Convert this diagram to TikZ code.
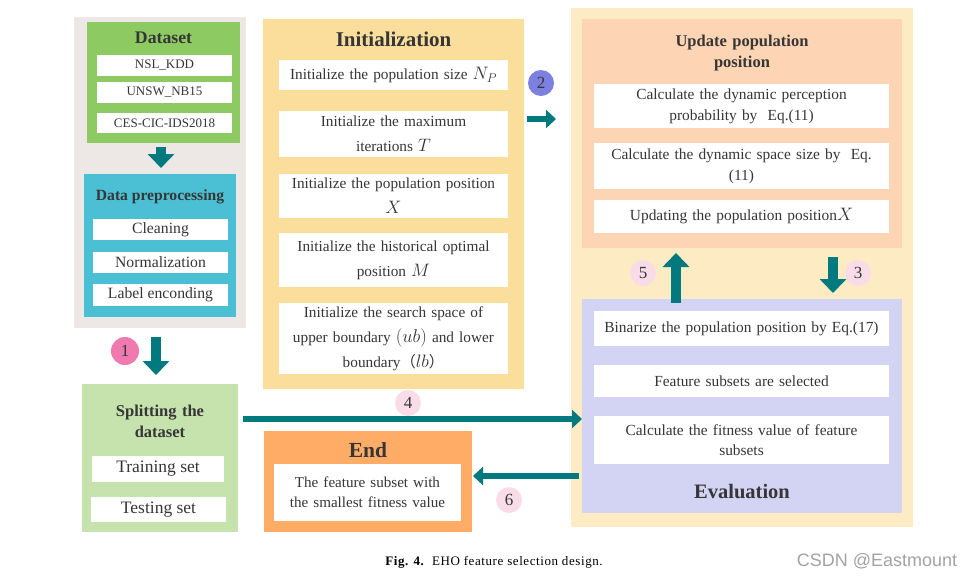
\RequirePackage{fix-cm}
\documentclass[tikz,border=0pt]{standalone}
\usepackage{fontspec}
\setmainfont{Liberation Serif}
\newfontfamily\wmfont{Liberation Sans}
\newfontfamily\capfont[LetterSpace=4.5]{Liberation Serif}
\newfontfamily\cjk{Noto Sans CJK SC}
\usetikzlibrary{arrows.meta}
\newcommand\mth[1]{{\fontsize{18}{25}\selectfont$#1$}}
\definecolor{txt}{HTML}{363636}
\definecolor{teal}{HTML}{007A7F}
\definecolor{graybg}{HTML}{EDE8E6}
\definecolor{dsgreen}{HTML}{8DCB62}
\definecolor{ppblue}{HTML}{4BC0D4}
\definecolor{inityel}{HTML}{FBDE9C}
\definecolor{rightbg}{HTML}{FDEBC3}
\definecolor{peach}{HTML}{FDD4B4}
\definecolor{lav}{HTML}{D3D3F3}
\definecolor{spgreen}{HTML}{C6E3AD}
\definecolor{endor}{HTML}{FFAD66}
\definecolor{cpink}{HTML}{F07AAF}
\definecolor{cblue}{HTML}{7C80E0}
\definecolor{clight}{HTML}{FADCE9}
\tikzset{
  panel/.style={rectangle, inner sep=0pt, outer sep=0pt},
  wbox/.style={panel, fill=white, text=txt, align=center},
  ttl/.style={text=txt, font=\bfseries\fontsize{16.5}{21}\selectfont, align=center, inner sep=0pt},
  bigttl/.style={text=txt, font=\bfseries\fontsize{21}{24}\selectfont, inner sep=0pt},
  body/.style={font=\fontsize{15.3}{25}\selectfont},
  rbody/.style={font=\fontsize{15.4}{21}\selectfont},
  small/.style={font=\fontsize{13}{15}\selectfont},
  mid/.style={font=\fontsize{15.7}{18}\selectfont},
  num/.style={circle, minimum size=26pt, inner sep=0pt, text=txt, font=\fontsize{17}{17}\selectfont},
  bigarr/.style={draw=teal, line width=10pt, -{Triangle[width=26pt,length=14pt]}},
  arr/.style={draw=teal, line width=6.5pt, -{Triangle[width=18pt,length=10pt]}},
}
\begin{document}
\begin{tikzpicture}[x=1pt,y=-1pt]
\fill[white] (0,0) rectangle (963,579);
\useasboundingbox (0,0) rectangle (963,579);
% left panel
\node[panel, fill=graybg, minimum width=172pt, minimum height=311pt] (gp) at (160,172.5) {};
\node[panel, fill=dsgreen, minimum width=153pt, minimum height=121pt] (ds) at (163.5,82.5) {};
\node[ttl, font=\bfseries\fontsize{17.7}{20}\selectfont] (dst) at (163.5,38) {Dataset};
\node[wbox, small, minimum width=135pt, minimum height=21pt] (w1) at (164.5,65.5) {NSL\_KDD};
\node[wbox, small, minimum width=135pt, minimum height=21pt] (w2) at (164.5,92.5) {UNSW\_NB15};
\node[wbox, small, minimum width=135pt, minimum height=20pt] (w3) at (164.5,123) {CES-CIC-IDS2018};
\node[panel, fill=ppblue, minimum width=152pt, minimum height=143pt] (pp) at (160,245.5) {};
\node[ttl, font=\bfseries\fontsize{15.6}{20}\selectfont] (ppt) at (160,197) {Data preprocessing};
\node[wbox, mid, minimum width=135pt, minimum height=21pt] (c1b) at (160.5,229.5) {Cleaning};
\node[wbox, mid, minimum width=135pt, minimum height=21pt] (c2b) at (160.5,262.5) {Normalization};
\node[wbox, mid, minimum width=135pt, minimum height=22pt] (c3b) at (160.5,295) {Label enconding};
\draw[bigarr, shorten <=4pt, shorten >=6pt] ([xshift=-2.5pt]ds.south) -- ([xshift=-2.5pt]ds.south |- pp.north);
% initialization
\node[panel, fill=inityel, minimum width=261pt, minimum height=370pt] (init) at (393.5,204) {};
\node[bigttl] (initt) at (393.5,39) {Initialization};
\node[wbox, body, text width=229pt, minimum height=30pt] (i1) at (393.5,75) {Initialize the population size \mth{N_P}};
\node[wbox, body, text width=229pt, minimum height=46pt] (i2) at (393.5,134) {Initialize the maximum\\iterations \mth{T}};
\node[wbox, body, text width=229pt, minimum height=44pt] (i3) at (393.5,196) {Initialize the population position\\\mth{X}};
\node[wbox, body, text width=229pt, minimum height=54pt] (i4) at (393.5,260) {Initialize the historical optimal\\position \mth{M}};
\node[wbox, body, text width=229pt, minimum height=71pt] (i5) at (393.5,338.5) {Initialize the search space of\\upper boundary {\fontsize{18.5}{25}\selectfont$(ub)$} and lower\\boundary{\cjk （}\mth{lb}{\cjk ）}};
\node[num, fill=cblue] (n2) at (541,83) {2};
\coordinate (a2) at (0,119);
\draw[arr, shorten <=3pt, shorten >=15pt] (init.east |- a2) -- (571,119);
% right panel
\node[panel, fill=rightbg, minimum width=342pt, minimum height=519pt] (rp) at (742,267.5) {};
\node[panel, fill=peach, minimum width=320pt, minimum height=229pt] (up) at (742,133.5) {};
\node[ttl, text width=220pt, font=\bfseries\fontsize{16.5}{21}\selectfont] (upt) at (742,53.5) {Update population\\position};
\node[wbox, rbody, text width=295pt, minimum height=44pt] (u1) at (741.5,106) {Calculate the dynamic perception\\probability by\ \ Eq.(11)};
\node[wbox, rbody, text width=295pt, minimum height=46pt] (u2) at (741.5,166) {Calculate the dynamic space size by\ \ Eq.\\(11)};
\node[wbox, rbody, text width=295pt, minimum height=33pt] (u3) at (741.5,216.5) {Updating the population position\mth{X}};
\node[panel, fill=lav, minimum width=320pt, minimum height=214pt] (ev) at (742,406) {};
\node[wbox, rbody, text width=295pt, minimum height=35pt] (e1) at (741.5,328.5) {Binarize the population position by Eq.(17)};
\node[wbox, rbody, text width=295pt, minimum height=32pt] (e2) at (741.5,381) {Feature subsets are selected};
\node[wbox, font=\fontsize{15.4}{20}\selectfont, text width=295pt, minimum height=48pt] (e3) at (741.5,440) {Calculate the fitness value of feature\\subsets};
\node[bigttl, font=\bfseries\fontsize{20.5}{24}\selectfont] (evt) at (742,492) {Evaluation};
\node[num, fill=clight] (n5) at (643,273) {5};
\node[num, fill=clight] (n3) at (858,273) {3};
\coordinate (a5) at (676,0);
\coordinate (a3) at (833,0);
\draw[bigarr, shorten <=-4pt, shorten >=5pt] (ev.north -| a5) -- (up.south -| a5);
\draw[bigarr, shorten <=9pt, shorten >=6pt] (up.south -| a3) -- (ev.north -| a3);
% bottom
\node[num, fill=cpink, minimum size=28pt] (n1) at (125,351) {1};
\node[panel, fill=spgreen, minimum width=156pt, minimum height=148pt] (sp) at (160,458) {};
\draw[bigarr, shorten <=9pt, shorten >=9pt] ([xshift=-4pt]gp.south) -- ([xshift=-4pt]gp.south |- sp.north);
\node[ttl, text width=150pt] (spt) at (160,421) {Splitting the\\dataset};
\node[wbox, font=\fontsize{17.5}{20}\selectfont, minimum width=132pt, minimum height=26pt] (t1) at (158,469) {Training set};
\node[wbox, font=\fontsize{17.5}{20}\selectfont, minimum width=135pt, minimum height=25pt] (t2) at (158.5,509.5) {Testing set};
\coordinate (a4) at (0,419);
\draw[arr, shorten <=5pt] (sp.east |- a4) -- (ev.west |- a4);
\node[num, fill=clight] (n4) at (408,403) {4};
\node[panel, fill=endor, minimum width=208pt, minimum height=101pt] (end) at (368,481.5) {};
\node[bigttl, font=\bfseries\fontsize{21.5}{24}\selectfont] (endt) at (368,450) {End};
\node[wbox, font=\fontsize{15.1}{20}\selectfont, text width=187pt, minimum height=57pt] (ew) at (367.5,492.5) {The feature subset with\\the smallest fitness value};
\coordinate (a6) at (0,476);
\draw[arr, shorten <=3pt, shorten >=1pt] (ev.west |- a6) -- (end.east |- a6);
\node[num, fill=clight] (n6) at (509,500) {6};
% caption
\node[font=\capfont\fontsize{13}{15}\selectfont, inner sep=0pt] (cap) at (494,562) {\textbf{Fig. 4.}\ \ EHO feature selection design.};
\node[font=\wmfont\fontsize{18}{20}\selectfont, text=black!36, inner sep=0pt] (wm) at (877,561) {CSDN @Eastmount};
\end{tikzpicture}
\end{document}
